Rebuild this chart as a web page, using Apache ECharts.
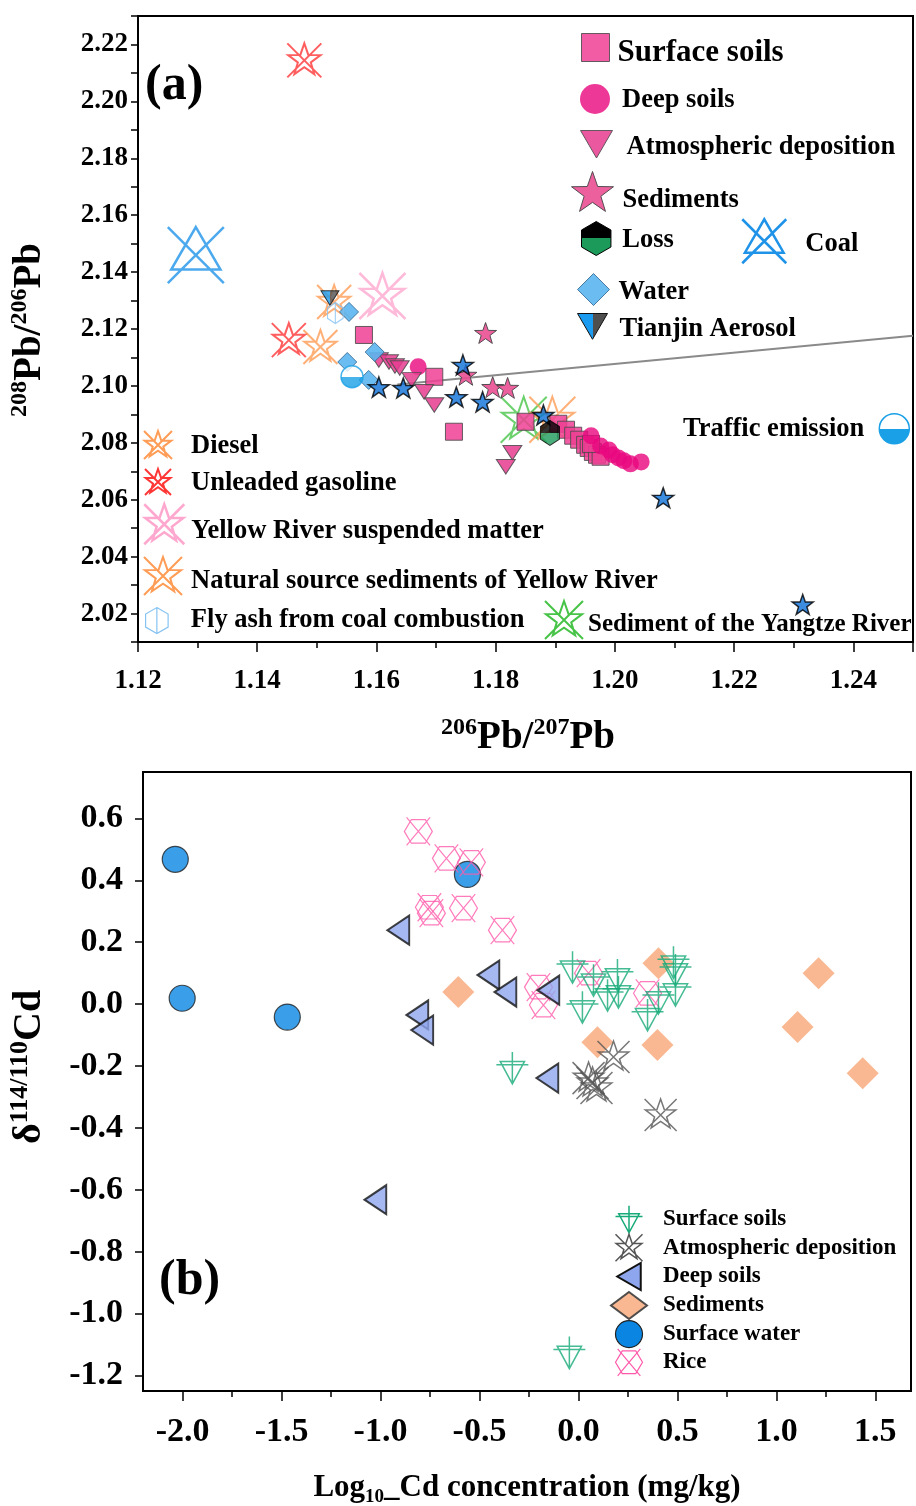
<!DOCTYPE html>
<html>
<head>
<meta charset="utf-8">
<script src="https://cdn.jsdelivr.net/npm/echarts@6/dist/echarts.min.js"></script>
<style>
  html, body { margin: 0; padding: 0; background: #fff; }
  #chart { width: 916px; height: 1506px; }
</style>
</head>
<body>
<div id="chart"></div>
<script>
const FONT = '"Liberation Serif", "Times New Roman", serif';

// ---------- (a) Pb isotopes: [206Pb/207Pb, 208Pb/206Pb] ----------
const surfaceSoilsPb = [[1.1579,2.1179],[1.1697,2.1032],[1.1730,2.0839],[1.1850,2.0874],[1.1905,2.0867],[1.1918,2.0846],[1.1930,2.0825],[1.1940,2.0811],[1.1950,2.0793],[1.1956,2.0782],[1.1963,2.0768],[1.1970,2.0758],[1.1976,2.0751],[1.1960,2.0796]];
const deepSoilsPb = [[1.1670,2.1067],[1.1960,2.0825],[1.1976,2.0789],[1.1990,2.0775],[1.1996,2.0758],[1.2006,2.0747],[1.2015,2.0737],[1.2026,2.0726],[1.2044,2.0733]];
const atmosphericPb = [[1.1604,2.1091],[1.1621,2.1084],[1.1631,2.1070],[1.1639,2.1063],[1.1659,2.1021],[1.1680,2.0979],[1.1697,2.0933],[1.1828,2.0765],[1.1817,2.0716]];
const sedimentsPb = [[1.1783,2.1186],[1.1750,2.1039],[1.1795,2.0996],[1.1820,2.0993]];
const waterPb = [[1.1554,2.1260],[1.1551,2.1084],[1.1587,2.1021],[1.1597,2.1119]];
const aerosolStarsPb = [[1.1604,2.0996],[1.1645,2.0993],[1.1734,2.0961],[1.1745,2.1074],[1.1778,2.0944],[1.1880,2.0898],[1.2081,2.0607],[1.2315,2.0232]];
const lossPb = [[1.1891,2.0835]];
const coalPb = [[1.1297,2.1460]];
const tianjinAerosolPb = [[1.1522,2.1309]];
const trafficPb = [[1.1559,2.1032]];
const dieselPb = [[1.1506,2.1137],[1.1529,2.1295]];
const unleadedPb = [[1.1479,2.2144],[1.1453,2.1161]];
const yellowSuspendedPb = [[1.1610,2.1316]];
const yellowNaturalPb = [[1.1895,2.0881]];
const flyAshPb = [[1.1531,2.1256]];
const yangtzePb = [[1.1847,2.0881]];
const mixingLinePb = [[1.1635,2.1005],[1.2500,2.1176]];

// ---------- (b) Cd isotopes: [log10 Cd (mg/kg), δ114/110Cd] ----------
const surfaceSoilsCd = [[-0.030,0.119],[0.020,-0.010],[0.076,0.077],[0.147,0.029],[0.197,0.094],[0.202,0.039],[0.349,-0.035],[0.404,0.019],[0.480,0.135],[0.490,0.110],[0.490,0.045],[-0.334,-0.206],[-0.046,-1.126]];
const atmosphericCd = [[0.177,-0.171],[0.051,-0.239],[0.071,-0.255],[0.091,-0.271],[0.415,-0.358]];
const deepSoilsCd = [[-0.910,0.239],[-0.455,0.094],[-0.369,0.039],[-0.152,0.045],[-0.814,-0.035],[-0.789,-0.084],[-0.157,-0.239],[-1.026,-0.632]];
const sedimentsCd = [[-0.607,0.039],[0.096,-0.123],[0.399,-0.132],[0.404,0.132],[1.107,-0.074],[1.213,0.100],[1.436,-0.223]];
const surfaceWaterCd = [[-2.037,0.468],[-2.002,0.019],[-1.471,-0.042],[-0.561,0.419]];
const riceCd = [[-0.809,0.558],[-0.667,0.471],[-0.541,0.458],[-0.753,0.313],[-0.743,0.294],[-0.581,0.310],[-0.384,0.239],[-0.202,0.055],[-0.177,-0.003],[0.051,0.100],[0.349,0.035]];

const cdTicksX = [-2.0,-1.5,-1.0,-0.5,0.0,0.5,1.0,1.5];
const cdMinorTicksX = [-1.75,-1.25,-0.75,-0.25,0.25,0.75,1.25];
const cdTicksY = [-1.2,-1.0,-0.8,-0.6,-0.4,-0.2,0.0,0.2,0.4,0.6];

// ---------- marker shapes ----------
const STAR = 'M50,0 L61.8,34 L97.6,34.5 L69,56.2 L79.4,90.5 L50,70 L20.6,90.5 L31,56.2 L2.4,34.5 L38.2,34 Z';
const HEX = 'M50,0 L93.3,25 L93.3,75 L50,100 L6.7,75 L6.7,25 Z';
const SYM = {
  triDown: 'path://M0,0 L100,0 L50,86 Z',
  star: 'path://' + STAR,
  starX: 'path://' + STAR + ' M0,0 L100,100 M100,0 L0,100',
  hex: 'path://' + HEX,
  hexBar: 'path://' + HEX + ' M50,0 L50,100',
  coal: 'path://M50,0 L94,76 L6,76 Z M0,0 L100,100 M100,0 L0,100',
  triLeft: 'path://M100,0 L100,100 L13,50 Z',
  crossTri: 'path://M12,30 L88,30 L50,100 Z M50,0 L50,100 M0,40 L100,40',
  hexX: 'path://M25,8 L75,8 L100,50 L75,92 L25,92 L0,50 Z M8,0 L92,100 M92,0 L8,100'
};
const NONE = 'rgba(0,0,0,0)';
function split(dir, c1, c2, at) {
  return { type: 'linear', x: 0, y: 0, x2: dir === 'h' ? 1 : 0, y2: dir === 'v' ? 1 : 0,
    colorStops: [{offset: 0, color: c1}, {offset: at, color: c1}, {offset: at, color: c2}, {offset: 1, color: c2}] };
}
function outline(color, width) { return { color: NONE, borderColor: color, borderWidth: width }; }

const styleA = {
  'Surface soils': { symbol: 'rect', size: 17, itemStyle: { color: '#ee3f94', borderColor: '#4a4a4a', borderWidth: 1, opacity: 0.85 } },
  'Deep soils': { symbol: 'circle', size: 17, itemStyle: { color: '#e8067e', opacity: 0.8 } },
  'Atmospheric deposition': { symbol: SYM.triDown, size: [19, 17], itemStyle: { color: '#e63b8f', borderColor: '#4a4a4a', borderWidth: 1, opacity: 0.85 } },
  'Sediments': { symbol: SYM.star, size: 22, itemStyle: { color: '#ea4f93', borderColor: '#444', borderWidth: 1, opacity: 0.9 } },
  'Loss': { symbol: SYM.hex, size: [22, 25], itemStyle: { color: split('v', '#000', '#1c9a5a', 0.5), borderColor: '#000', borderWidth: 1 } },
  'Coal': { symbol: SYM.coal, size: 56, itemStyle: outline('#1f93e8', 2.5) },
  'Water': { symbol: 'diamond', size: 19, itemStyle: { color: '#5bb6f0', borderColor: '#3d6f98', borderWidth: 1, opacity: 0.9 } },
  'Tianjin Aerosol': { symbol: SYM.triDown, size: [18, 17], itemStyle: { color: split('h', '#1a9bef', '#4f4f4f', 0.5), borderColor: '#111', borderWidth: 1 } },
  'Traffic emission': { symbol: 'circle', size: 22, itemStyle: { color: split('v', '#ffffff', '#1aa0e6', 0.5), borderColor: '#1aa0e6', borderWidth: 1.5 } },
  'Diesel': { symbol: SYM.starX, size: 34, itemStyle: outline('#ff9c55', 2) },
  'Unleaded gasoline': { symbol: SYM.starX, size: 34, itemStyle: outline('#ff3636', 2) },
  'Yellow River suspended matter': { symbol: SYM.starX, size: 46, itemStyle: outline('#ffa8cf', 2.5) },
  'Natural source sediments of Yellow River': { symbol: SYM.starX, size: 46, itemStyle: outline('#ff9c55', 2) },
  'Fly ash from coal combustion': { symbol: SYM.hexBar, size: [18, 21], itemStyle: outline('#86c3f2', 1.2) },
  'Sediment of the Yangtze River': { symbol: SYM.starX, size: 46, itemStyle: outline('#47c447', 2) },
  'Aerosol samples': { symbol: SYM.star, size: 21, itemStyle: { color: '#0b6fd8', borderColor: '#000', borderWidth: 1.5 } }
};
const dataA = {
  'Sediment of the Yangtze River': yangtzePb,
  'Natural source sediments of Yellow River': yellowNaturalPb,
  'Yellow River suspended matter': yellowSuspendedPb,
  'Diesel': dieselPb,
  'Unleaded gasoline': unleadedPb,
  'Coal': coalPb,
  'Surface soils': surfaceSoilsPb,
  'Deep soils': deepSoilsPb,
  'Atmospheric deposition': atmosphericPb,
  'Sediments': sedimentsPb,
  'Water': waterPb,
  'Aerosol samples': aerosolStarsPb,
  'Loss': lossPb,
  'Tianjin Aerosol': tianjinAerosolPb,
  'Traffic emission': trafficPb,
  'Fly ash from coal combustion': flyAshPb
};

const styleB = {
  'Surface soils': { symbol: SYM.crossTri, size: 32, itemStyle: outline('#16aa78', 1.5) },
  'Atmospheric deposition': { symbol: SYM.starX, size: 32, itemStyle: outline('#555', 1.5) },
  'Deep soils': { symbol: SYM.triLeft, size: [25, 29], itemStyle: { color: '#8ea6ee', borderColor: '#111', borderWidth: 2 } },
  'Sediments': { symbol: 'diamond', size: 32, itemStyle: { color: '#f9b48b', opacity: 0.95 } },
  'Surface water': { symbol: 'circle', size: 26, itemStyle: { color: '#0a86e2', borderColor: '#222', borderWidth: 1.2 } },
  'Rice': { symbol: SYM.hexX, size: 28, itemStyle: outline('#ff5aaa', 1.2) }
};
const dataB = {
  'Sediments': sedimentsCd,
  'Surface water': surfaceWaterCd,
  'Rice': riceCd,
  'Deep soils': deepSoilsCd,
  'Surface soils': surfaceSoilsCd,
  'Atmospheric deposition': atmosphericCd
};

// ---------- series ----------
const series = [];
series.push({
  name: 'Mixing line', type: 'line', xAxisIndex: 0, yAxisIndex: 0, data: mixingLinePb,
  showSymbol: false, silent: true, z: 1, lineStyle: { color: '#8a8a8a', width: 2 }
});
Object.keys(dataA).forEach(function (name, i) {
  const st = styleA[name];
  series.push({ name: name, type: 'scatter', xAxisIndex: 0, yAxisIndex: 0, data: dataA[name],
    symbol: st.symbol, symbolSize: st.size, symbolKeepAspect: true, itemStyle: st.itemStyle, z: 2 + i * 0.01 });
});
Object.keys(dataB).forEach(function (name, i) {
  const st = styleB[name];
  series.push({ name: name, type: 'scatter', xAxisIndex: 1, yAxisIndex: 1, data: dataB[name],
    symbol: st.symbol, symbolSize: st.size, symbolKeepAspect: true, itemStyle: st.itemStyle, z: 2 + i * 0.01 });
});

// ---------- legends ----------
function legendData(name, st) {
  return { name: name, icon: st.symbol, itemStyle: Object.assign({ opacity: 1 }, st.itemStyle) };
}
function labelFont(fs) {
  return { fontFamily: FONT, fontWeight: 'bold', fontSize: fs, color: '#000', lineHeight: 14 };
}
// cx/cy: icon centre, dy: downward shift of the label relative to the icon
const legendLayoutA = [
  { name: 'Surface soils', cx: 595, cy: 47, w: 28, h: 28, fs: 31, gap: 3, dy: 5 },
  { name: 'Deep soils', cx: 595, cy: 99, w: 30, h: 30, fs: 26.5, gap: 7, dy: 1 },
  { name: 'Atmospheric deposition', cx: 596, cy: 145, w: 32, h: 30, fs: 26.5, gap: 9, dy: 3 },
  { name: 'Sediments', cx: 592, cy: 191, w: 42, h: 40, fs: 26.5, gap: 4, dy: 9 },
  { name: 'Loss', cx: 596, cy: 238, w: 30, h: 34, fs: 26.5, gap: 6, dy: 2 },
  { name: 'Coal', cx: 763, cy: 240, w: 44, h: 44, fs: 26.5, gap: 14, dy: 3 },
  { name: 'Water', cx: 593, cy: 289, w: 32, h: 32, fs: 26.5, gap: 4, dy: 3 },
  { name: 'Tianjin Aerosol', cx: 592, cy: 328, w: 30, h: 30, fs: 26.5, gap: 7, dy: 3 },
  { name: 'Diesel', cx: 157, cy: 444, w: 28, h: 28, fs: 26.5, gap: 14, dy: 1 },
  { name: 'Unleaded gasoline', cx: 157, cy: 481, w: 26, h: 26, fs: 26.5, gap: 15, dy: 1 },
  { name: 'Yellow River suspended matter', cx: 163, cy: 524, w: 40, h: 42, fs: 26.5, gap: 2, dy: 7 },
  { name: 'Natural source sediments of Yellow River', cx: 162, cy: 576, w: 38, h: 40, fs: 26.5, gap: 4, dy: 5 },
  { name: 'Fly ash from coal combustion', cx: 158, cy: 620, w: 26, h: 26, fs: 26.5, gap: 16, dy: 0 },
  { name: 'Sediment of the Yangtze River', cx: 563, cy: 620, w: 38, h: 40, fs: 25, gap: 0, dy: 5 }
];
function richLegendText(fs, pad) {
  return { padding: pad, rich: { t: labelFont(fs) } };
}
function richName(name) { return '{t|' + name + '}'; }
const legends = legendLayoutA.map(function (L) {
  return {
    data: [legendData(L.name, styleA[L.name])], selectedMode: false, padding: 0,
    left: L.cx - L.w / 2, top: L.cy - L.h / 2, itemWidth: L.w, itemHeight: L.h,
    formatter: richName,
    textStyle: richLegendText(L.fs, [2 * L.dy, 0, 0, L.gap])
  };
});
legends.push({
  data: [legendData('Traffic emission', styleA['Traffic emission'])], selectedMode: false, padding: 0,
  align: 'right', left: 683, top: 413, itemWidth: 30, itemHeight: 30,
  formatter: richName,
  textStyle: richLegendText(26.5, [0, 10, 0, 0])
});
legends.push({
  orient: 'vertical', selectedMode: false, padding: 0,
  data: Object.keys(styleB).map(function (n) { return legendData(n, styleB[n]); }),
  left: 610, top: 1205, itemWidth: 36, itemHeight: 27, itemGap: 0,
  textStyle: Object.assign({ padding: [0, 0, 0, 11] }, labelFont(23))
});

// ---------- axes ----------
const axisLineStyle = { color: '#000', width: 2 };
const tickLineStyle = { color: '#000', width: 1.5 };
const labelBase = { color: '#000', fontFamily: FONT, fontWeight: 'bold' };
function onGrid(v, step) { return Math.abs(v / step - Math.round(v / step)) < 1e-6; }

const xAxes = [
  { gridIndex: 0, type: 'value', position: 'bottom', min: 1.12, max: 1.25, interval: 0.02,
    axisLine: { onZero: false, lineStyle: axisLineStyle },
    axisTick: { length: 10, lineStyle: tickLineStyle },
    minorTick: { show: true, splitNumber: 2, length: 6, lineStyle: tickLineStyle },
    axisLabel: Object.assign({ fontSize: 27, margin: 26, formatter: function (v) { return onGrid(v, 0.02) ? v.toFixed(2) : ''; } }, labelBase),
    splitLine: { show: false }, minorSplitLine: { show: false } },
  { gridIndex: 1, type: 'value', position: 'bottom', min: -2.2, max: 1.68,
    axisLine: { onZero: false, lineStyle: axisLineStyle },
    axisTick: { length: 10, customValues: cdTicksX, lineStyle: tickLineStyle },
    axisLabel: Object.assign({ fontSize: 34, margin: 24, customValues: cdTicksX, formatter: function (v) { return v.toFixed(1); } }, labelBase),
    splitLine: { show: false } },
  { gridIndex: 1, type: 'value', position: 'bottom', min: -2.2, max: 1.68,
    axisLine: { show: false, onZero: false },
    axisTick: { length: 6, customValues: cdMinorTicksX, lineStyle: tickLineStyle },
    axisLabel: { show: false }, splitLine: { show: false } }
];
const yAxes = [
  { gridIndex: 0, type: 'value', position: 'left', min: 2.01, max: 2.23, interval: 0.01,
    axisLine: { onZero: false, lineStyle: axisLineStyle },
    axisTick: { length: 7, lineStyle: tickLineStyle },
    axisLabel: Object.assign({ fontSize: 27, margin: 10, formatter: function (v) { return onGrid(v, 0.02) ? v.toFixed(2) : ''; } }, labelBase),
    splitLine: { show: false } },
  { gridIndex: 1, type: 'value', position: 'left', min: -1.25, max: 0.75,
    axisLine: { onZero: false, lineStyle: axisLineStyle },
    axisTick: { length: 8, customValues: cdTicksY, lineStyle: tickLineStyle },
    axisLabel: Object.assign({ fontSize: 34, margin: 20, customValues: cdTicksY, formatter: function (v) { return v.toFixed(1); } }, labelBase),
    splitLine: { show: false } }
];

// ---------- titles and panel tags ----------
function titleRich(big, small) {
  return {
    b: { fontFamily: FONT, fontWeight: 'bold', fontSize: big, lineHeight: big + 6, color: '#000' },
    s: { fontFamily: FONT, fontWeight: 'bold', fontSize: small, lineHeight: small, verticalAlign: 'top', color: '#000' },
    d: { fontFamily: FONT, fontWeight: 'bold', fontSize: small, lineHeight: small, verticalAlign: 'bottom', color: '#000' }
  };
}
function titleText(x, y, text, big, small, rotate) {
  return { type: 'text', x: x, y: y, rotation: rotate ? Math.PI / 2 : 0,
    style: { text: text, rich: titleRich(big, small), align: 'center', verticalAlign: 'middle' } };
}
const graphics = [
  titleText(528, 738, '{s|206}{b|Pb/}{s|207}{b|Pb}', 39, 24, false),
  titleText(30, 330, '{s|208}{b|Pb/}{s|206}{b|Pb}', 39, 24, true),
  titleText(527, 1488, '{b|Log}{d|10}{b|_Cd concentration (mg/kg)}', 31, 19, false),
  titleText(30, 1067, '{b|δ}{s|114/110}{b|Cd}', 40, 26, true),
  { type: 'text', x: 145, y: 86, style: { text: '(a)', fontFamily: FONT, fontWeight: 'bold', fontSize: 50, fill: '#000', verticalAlign: 'middle' } },
  { type: 'text', x: 159, y: 1281, style: { text: '(b)', fontFamily: FONT, fontWeight: 'bold', fontSize: 50, fill: '#000', verticalAlign: 'middle' } }
];

const chart = echarts.init(document.getElementById('chart'), null, { renderer: 'canvas' });
chart.setOption({
  animation: false,
  backgroundColor: '#fff',
  grid: [
    { left: 138, top: 16, width: 783, height: 626, show: true, borderColor: '#000', borderWidth: 2 },
    { left: 143, top: 772, width: 768, height: 619, show: true, borderColor: '#000', borderWidth: 2 }
  ],
  xAxis: xAxes,
  yAxis: yAxes,
  legend: legends,
  graphic: graphics,
  series: series
});
</script>
</body>
</html>
